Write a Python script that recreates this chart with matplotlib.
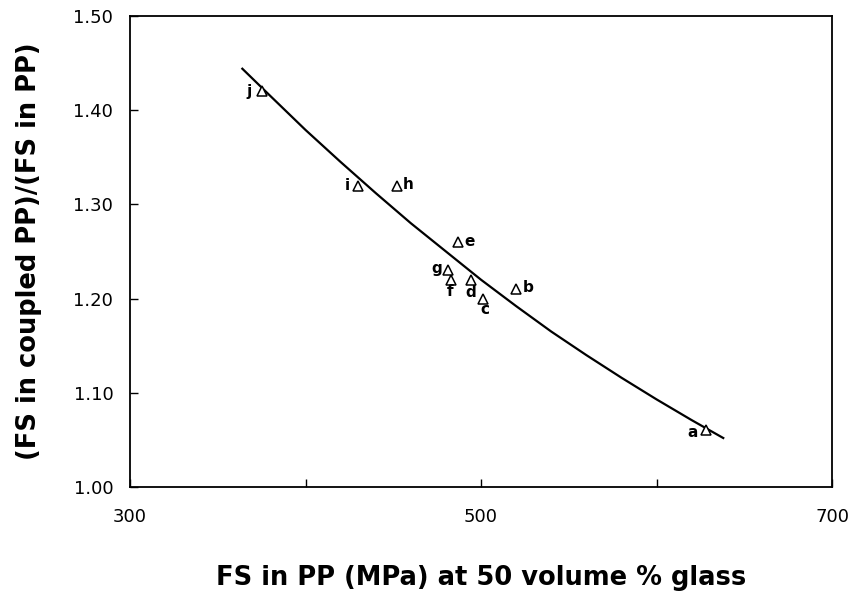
import matplotlib.pyplot as plt

# glass fibre samples a..j
labels = ['a', 'b', 'c', 'd', 'e', 'f', 'g', 'h', 'i', 'j']
fs_pp = [628, 520, 501, 494, 487, 483, 481, 452, 430, 375]
ratio = [1.06, 1.21, 1.20, 1.22, 1.26, 1.22, 1.23, 1.32, 1.32, 1.42]

# fitted curve
curve_x = [364, 380, 400, 420, 440, 460, 480, 500, 520, 540, 560, 580,
           600, 620, 638]
curve_y = [1.444, 1.415, 1.379, 1.345, 1.312, 1.280, 1.250, 1.220, 1.192,
           1.165, 1.140, 1.116, 1.093, 1.071, 1.052]

# letter position relative to its triangle, in pixels
offsets = {'a': (-13, -2), 'b': (12, 2), 'c': (2, -11), 'd': (0, -13),
           'e': (11, 1), 'f': (-1, -12), 'g': (-11, 2), 'h': (11, 1),
           'i': (-11, 0), 'j': (-13, 0)}

plt.rcParams['font.family'] = ['DejaVu Sans']

fig = plt.figure(figsize=(8.52, 5.96), dpi=100)
ax = fig.add_axes([0.1526, 0.1829, 0.824, 0.7903])

ax.plot(curve_x, curve_y, color='black', lw=1.6)
ax.plot(fs_pp, ratio, linestyle='none', marker='^', markersize=7.5,
        markerfacecolor='white', markeredgecolor='black', markeredgewidth=1.1)

for lab, x, y in zip(labels, fs_pp, ratio):
    dx, dy = offsets[lab]
    ax.annotate(lab, (x, y), xytext=(dx, dy), textcoords='offset pixels',
                ha='center', va='center', fontsize=11, fontweight='bold')

ax.set_xlim(300, 700)
ax.set_ylim(1.00, 1.50)
ax.set_xticks([300, 500, 700])
ax.set_xticks([400, 600], minor=True)
ax.set_yticks([1.00, 1.10, 1.20, 1.30, 1.40, 1.50])
ax.set_yticklabels(['1.00', '1.10', '1.20', '1.30', '1.40', '1.50'])
ax.tick_params(axis='both', which='both', direction='in', length=6,
               width=1, labelsize=13)
ax.tick_params(axis='x', which='both', pad=15)
ax.tick_params(axis='y', pad=12)
for s in ax.spines.values():
    s.set_linewidth(1.3)

ax.set_xlabel('FS in PP (MPa) at 50 volume % glass', fontsize=18.5,
              fontweight='bold', labelpad=28)
ax.set_ylabel('(FS in coupled PP)/(FS in PP)', fontsize=18.5,
              fontweight='bold', labelpad=23)

fig.savefig('out.png', dpi=100)
plt.close(fig)
